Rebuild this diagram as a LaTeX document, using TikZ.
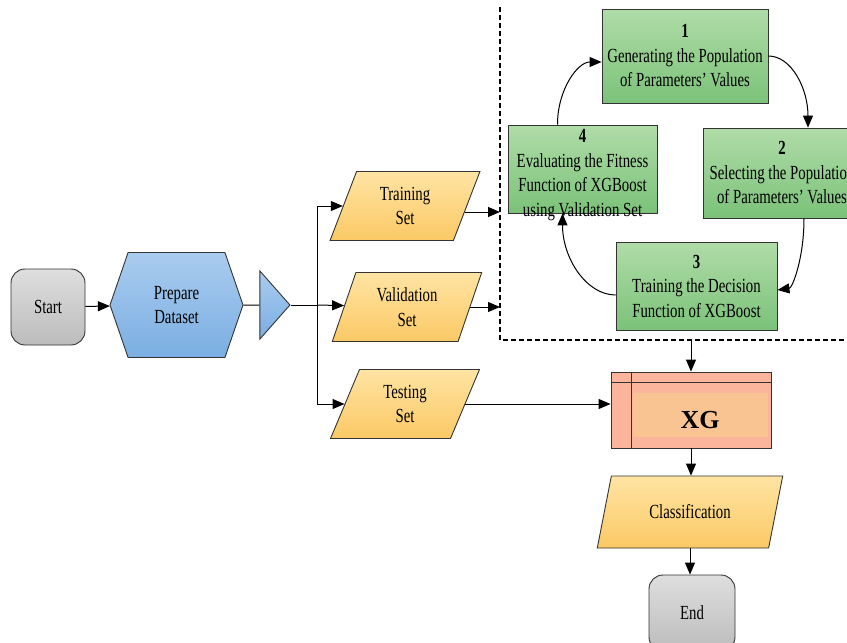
\documentclass[tikz,border=0pt]{standalone}
\usepackage{fontspec}
\setmainfont{Liberation Serif}[FakeStretch=0.74]
\newfontfamily\xgfont{Liberation Serif}
\usetikzlibrary{shapes.geometric,shapes.symbols,arrows.meta,calc,positioning}
\definecolor{grytop}{HTML}{DEDEDE}\definecolor{grybot}{HTML}{BCBCBC}
\definecolor{blutop}{HTML}{AACCEF}\definecolor{blubot}{HTML}{7AAEE2}
\definecolor{yeltop}{HTML}{FFE4A3}\definecolor{yelbot}{HTML}{FBC965}
\definecolor{grntop}{HTML}{B0DCA8}\definecolor{grnbot}{HTML}{7BC279}
\definecolor{xgout}{HTML}{FBB59C}\definecolor{xgin}{HTML}{F9C392}
\begin{document}
\begin{tikzpicture}[x=1pt,y=-1pt,>={Triangle[length=12pt,width=10pt]},line width=1pt,
every node/.style={font=\fontsize{20}{24.5}\selectfont,align=center,draw=black!80,line width=0.9pt},
term/.style={rounded corners=14pt,top color=grytop,bottom color=grybot,minimum height=76pt},
para/.style={trapezium,trapezium left angle=70,trapezium right angle=110,trapezium stretches=true,
  top color=yeltop,bottom color=yelbot,minimum width=150pt,minimum height=69pt,inner sep=0pt},
gbox/.style={rectangle,top color=grntop,bottom color=grnbot,inner sep=1pt},
xgbox/.style={rectangle,fill=xgout,minimum width=160pt,minimum height=76pt,
  path picture={\fill[xgin] ($(path picture bounding box.north west)+(22,21)$) rectangle ($(path picture bounding box.south east)+(-3,-11)$);
  \draw[black!80] ($(path picture bounding box.north west)+(0,10)$) -- ($(path picture bounding box.north east)+(0,10)$);
  \draw[black!80] ($(path picture bounding box.north west)+(20,0)$) -- ($(path picture bounding box.south west)+(20,0)$);}}]
\useasboundingbox (0,0) rectangle (847,643);
\clip (0,0) rectangle (847,643);
\node[term,minimum width=74pt] (start) at (48,307) {Start};
\node[signal,signal to=west and east,signal pointer angle=142,top color=blutop,bottom color=blubot,
  minimum width=133pt,minimum height=105pt,inner sep=0pt] (prep) at (176.5,305) {Prepare\\Dataset};
\node[isosceles triangle,isosceles triangle stretches,minimum width=68pt,minimum height=30pt,inner sep=0pt,
  top color=blutop,bottom color=blubot,right=16pt of prep] (split) {};
\coordinate (br) at ($(split.east)+(26,0)$);
\node[para] (trn) at (405,206) {Training\\Set};
\node[para] (val) at (407,307) {Validation\\Set};
\node[para] (tst) at (405,404) {Testing\\Set};
\node[gbox,minimum width=166pt,minimum height=94pt] (g1) at (685,56) {\textbf{1}\\Generating the Population\\of Parameters' Values};
\node[gbox,minimum width=158pt,minimum height=90pt] (g2) at (782,173) {\textbf{2}\\Selecting the Population\\of Parameters' Values};
\node[gbox,minimum width=161pt,minimum height=88pt] (g3) at (696.5,286) {\textbf{3}\\Training the Decision\\Function of XGBoost};
\node[gbox,minimum width=149pt,minimum height=88pt] (g4) at (582.5,169)
  {\smash{\raisebox{-11pt}{\begin{tabular}{@{}c@{}}\textbf{4}\\Evaluating the Fitness\\Function of XGBoost\\using Validation Set\end{tabular}}}};
\coordinate (dl) at (500,340);
\draw[line width=1.6pt,dash pattern=on 5pt off 3pt] (dl |- 0,7) -- (dl) -- (847,340);
\node[xgbox] (xg) at (691,410) {\raisebox{-18pt}[0pt][0pt]{\hspace*{18pt}\xgfont\bfseries\fontsize{26}{30}\selectfont XG}};
\node[para,trapezium left angle=63,trapezium right angle=117,minimum width=186pt,minimum height=72pt] (cls) at (690,512) {Classification};
\node[term,minimum width=86pt] (end) at (692,613) {End};
\draw[->] (start) -- (prep);
\draw (prep) -- (split);
\draw (split.east) -- (br);
\draw[->] (br) |- (trn);
\draw[->] (br) -- (val);
\draw[->] (br) |- (tst);
\draw[->] ($(trn.east)+(-2,6)$) -- ($(trn.east -| dl)+(0,6)$);
\draw[->] (val.east) -- (val.east -| dl);
\draw[->] (tst.east) -- (tst.east -| xg.west);
\draw[->] ($(g4.north)+(-25,0)$) .. controls +(0,-35) and +(-24,0) .. ($(g1.west)+(0,6)$);
\draw[->] (g1.east) .. controls +(23,0) and +(0,-39) .. ($(g2.north)+(26,0)$);
\draw[->] ($(g2.south)+(22,0)$) .. controls +(0,40) and +(15,-2) .. ($(g3.east)+(0,4)$);
\draw[->] ($(g3.west)+(0,9)$) .. controls +(-29,0) and +(0,45) .. ($(g4.south)+(-20,0)$);
\draw[->] (xg.north |- dl) -- (xg.north);
\draw[->] (xg.south) -- (xg.south |- cls.north);
\draw[->] (cls.south) -- (cls.south |- end.north);
\end{tikzpicture}
\end{document}
